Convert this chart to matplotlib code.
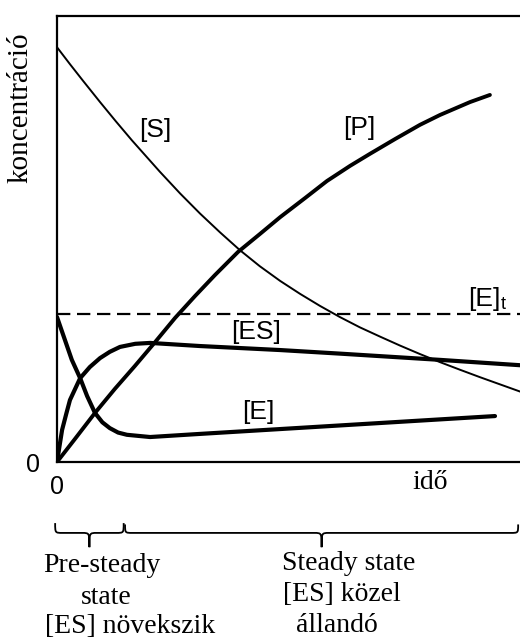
import matplotlib
matplotlib.use("Agg")
import matplotlib.pyplot as plt
from matplotlib.path import Path
from matplotlib.patches import PathPatch

# values (time 0..100, concentration 0..100)
s_t = [0, 2.8, 5.6, 9.3, 12.7, 16.2, 22.2, 26.6, 30.9, 35.2, 39.5, 43.8, 48.2,
       52.5, 56.8, 61.1, 65.4, 69.8, 74.1, 78.4, 82.7, 87.0, 91.4, 95.7, 100]
s_c = [93.0, 89.2, 85.5, 80.7, 76.4, 72.1, 65.1, 60.2, 55.7, 51.5, 47.5, 43.9, 40.6,
       37.7, 35.0, 32.5, 30.2, 28.1, 26.1, 24.2, 22.4, 20.7, 19.0, 17.4, 15.8]

p_t = [0, 3.9, 8.2, 12.5, 16.8, 21.2, 25.5, 29.8, 34.1, 39.1, 43.8, 48.2, 53.6,
       58.3, 63.3, 67.6, 73.0, 78.4, 82.7, 89.2, 93.5]
p_c = [0, 5.2, 11.0, 16.4, 21.5, 26.9, 32.3, 37.2, 41.9, 47.1, 51.1, 54.9, 59.2,
       63.0, 66.4, 69.1, 72.4, 75.6, 77.8, 80.7, 82.3]

es_t = [0, 1.1, 2.0, 2.8, 5.0, 7.1, 9.3, 11.4, 13.6, 16.9, 20.1, 30.9, 48.2, 61.1, 82.7, 100]
es_c = [0, 7.2, 10.8, 13.9, 18.8, 21.3, 23.3, 24.7, 25.8, 26.5, 26.7, 26.0, 25.1, 24.3, 22.9, 21.7]

e_t = [0, 1.7, 3.2, 5.0, 6.5, 8.2, 9.8, 11.4, 13.2, 15.1, 20.1, 30.9, 94.6]
e_c = [32.5, 27.4, 22.9, 18.8, 14.8, 11.0, 8.9, 7.6, 6.6, 6.1, 5.6, 6.3, 10.3]

e_total = 33.2
t_steady = 14.4   # end of the pre-steady phase

labels = {"[S]": (21.2, 74.4), "[P]": (65.2, 74.9), "[ES]": (43.0, 29.1), "[E]": (43.4, 11.2)}

sans = "Liberation Sans"
serif = "Liberation Serif"

fig = plt.figure(figsize=(5.2, 6.39), dpi=100)
ax = fig.add_axes([57/520, 1 - 462/639, 463/520, 446/639])

ax.plot(s_t, s_c, color="black", lw=1.4)
ax.plot(p_t, p_c, color="black", lw=2.8, solid_capstyle="round")
ax.plot(es_t, es_c, color="black", lw=3.0, solid_capstyle="round")
ax.plot(e_t, e_c, color="black", lw=3.0, solid_capstyle="round")
ax.axhline(e_total, color="black", lw=1.6, ls=(0, (6, 3)))

for txt, (x, y) in labels.items():
    ax.text(x, y, txt, family=sans, fontsize=19, ha="center", va="center")
ax.text(88.8, 35.0, "[E]", family=sans, fontsize=19, ha="left", va="baseline")
ax.text(95.9, 34.3, "t", family=sans, fontsize=13, ha="left", va="baseline")

ax.set_xlim(0, 100)
ax.set_ylim(0, 100)
ax.set_xticks([0])
ax.set_xticklabels(["0"], family=sans, fontsize=18)
ax.set_yticks([0])
ax.set_yticklabels(["0"], family=sans, fontsize=18)
ax.tick_params(axis="x", length=0, pad=9)
ax.tick_params(axis="y", length=0, pad=12)
for side in ["left", "bottom", "top"]:
    ax.spines[side].set_linewidth(1.6)
ax.spines["right"].set_visible(False)

ax.text(-0.078, 0.794, "koncentráció", transform=ax.transAxes, rotation=90,
        family=serif, fontsize=21, ha="center", va="center")
ax.text(0.805, -0.047, "idő", transform=ax.transAxes,
        family=serif, fontsize=20, ha="center", va="center")


def brace(x0, x1, ytop, ymid, ytip, r):
    xm = (x0 + x1) / 2
    verts = [(x0, ytop), (x0, ymid), (x0, ymid), (x0 + r, ymid),
             (xm - r, ymid),
             (xm, ymid), (xm, ymid), (xm, ytip),
             (xm, ymid), (xm, ymid), (xm + r, ymid),
             (x1 - r, ymid),
             (x1, ymid), (x1, ymid), (x1, ytop)]
    codes = [Path.MOVETO, Path.CURVE4, Path.CURVE4, Path.CURVE4,
             Path.LINETO,
             Path.CURVE4, Path.CURVE4, Path.CURVE4,
             Path.CURVE4, Path.CURVE4, Path.CURVE4,
             Path.LINETO,
             Path.CURVE4, Path.CURVE4, Path.CURVE4]
    patch = PathPatch(Path(verts, codes), fill=False, lw=1.3, color="black",
                      transform=ax.get_xaxis_transform(), clip_on=False)
    ax.add_patch(patch)


brace(-0.4, t_steady, -0.137, -0.159, -0.191, 1.6)
brace(t_steady + 0.3, 99.6, -0.140, -0.159, -0.191, 1.6)

below = [("Pre-steady", 102, 572), ("state", 106, 604), ("[ES] növekszik", 130, 633),
         ("Steady state", 349, 570), ("[ES] közel", 342, 601), ("állandó", 337, 632)]
for txt, px, py in below:
    fig.text(px / 520, 1 - py / 639, txt, family=serif, fontsize=20,
             ha="center", va="baseline")

fig.savefig("out.png", dpi=100)
